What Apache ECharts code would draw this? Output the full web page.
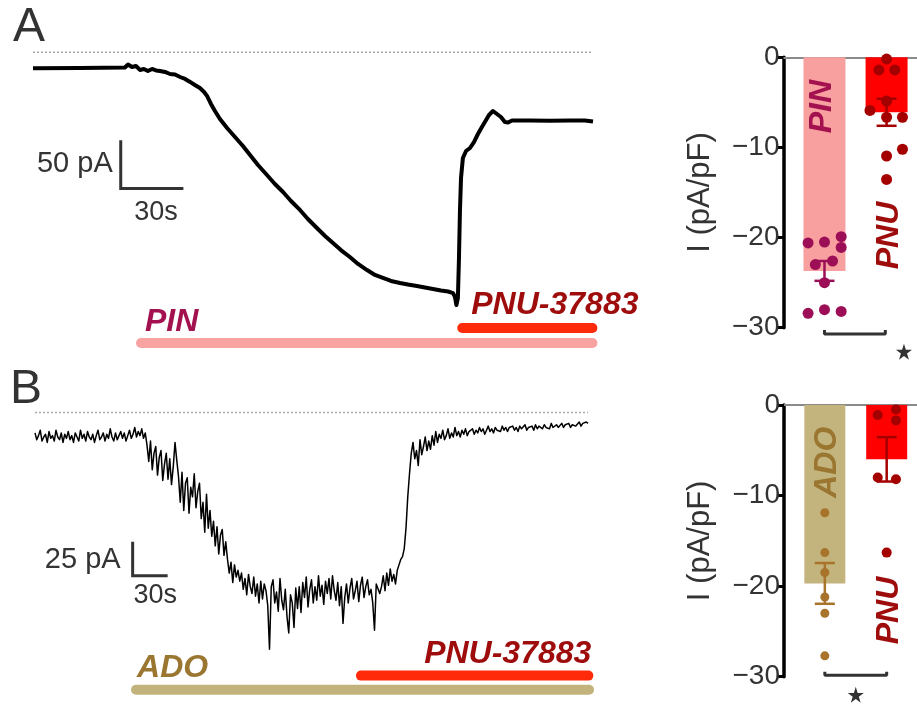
<!DOCTYPE html>
<html>
<head>
<meta charset="utf-8">
<script src="https://cdn.jsdelivr.net/npm/echarts@6/dist/echarts.min.js"></script>
<style>html,body{margin:0;padding:0;background:#fff}#c{width:917px;height:705px}</style>
</head>
<body>
<div id="c"></div>
<script>
// ---------------- DATA ----------------
// Panel A trace: [time (s), current (pA)]
const traceA = [
  [0,-16.6],[22.5,-16.3],[44.0,-15.7],[45.5,-12.6],[47.4,-15.2],[49.3,-14.2],[51.2,-18.3],[53.1,-17.3],
  [55.0,-19.4],[57.0,-17.3],[58.9,-18.8],[60.8,-19.4],[63.2,-20.4],[65.6,-22.5],[68.0,-23.0],[70.4,-25.6],
  [72.8,-27.6],[75.2,-30.7],[77.5,-33.9],[79.9,-37.0],[81.9,-41.1],[83.3,-45.2],[85.2,-53.5],[87.1,-60.8],
  [89.5,-69.1],[92.9,-78.4],[96.7,-87.7],[100.5,-97.0],[103.9,-106.3],[107.7,-116.7],[112.0,-127.0],
  [115.8,-136.3],[119.7,-144.6],[123.5,-153.9],[127.8,-163.2],[131.6,-172.6],[135.9,-181.9],[139.8,-190.2],
  [143.6,-197.4],[147.4,-204.7],[151.7,-211.9],[155.6,-219.1],[159.9,-225.4],[163.7,-230.5],[167.5,-233.6],
  [171.4,-236.7],[175.7,-238.8],[179.5,-240.4],[183.8,-241.9],[187.6,-243.5],[191.5,-245.0],[195.3,-246.6],
  [198.7,-247.6],[201.1,-249.2],[202.0,-253.3],[202.7,-261.6],[203.4,-254.3],[203.9,-215.0],[204.4,-163.2],
  [204.9,-130.1],[205.8,-109.4],[207.3,-102.2],[209.2,-99.1],[211.1,-92.9],[213.0,-84.6],[214.9,-77.3],
  [216.9,-70.1],[218.3,-64.9],[220.2,-60.8],[222.1,-63.9],[224.0,-67.0],[225.9,-72.2],[227.4,-72.7],
  [229.3,-70.6],[237.9,-70.6],[247.5,-70.9],[257.1,-70.6],[264.2,-70.6],[268.1,-71.6]
];
// Panel B trace: current (pA) sampled every traceBStep seconds from t = 0
const traceBStep = 1.5;
const traceBValues = [
  -15,-20,-17,-13,-21,-18,-16,-22,-14,-19,
  -17,-21,-13,-18,-20,-15,-22,-16,-19,-14,
  -20,-17,-22,-15,-18,-21,-13,-19,-16,-21,
  -14,-18,-20,-16,-22,-17,-13,-20,-18,-15,
  -21,-16,-19,-12,-18,-21,-15,-20,-17,-14,
  -19,-15,-21,-17,-13,-19,-16,-11,-18,-14,
  -17,-12,-19,-15,-24,-36,-21,-42,-30,-25,
  -46,-33,-28,-50,-38,-30,-49,-34,-53,-40,
  -22,-35,-47,-66,-44,-72,-52,-48,-74,-55,
  -62,-45,-70,-58,-52,-78,-66,-88,-60,-85,
  -72,-91,-80,-98,-84,-104,-90,-86,-105,-95,
  -108,-118,-110,-125,-112,-121,-116,-124,-118,-130,
  -122,-134,-119,-128,-133,-121,-135,-126,-140,-124,
  -137,-126,-131,-142,-174,-128,-123,-140,-132,-146,
  -122,-138,-145,-130,-150,-162,-134,-140,-158,-129,
  -144,-128,-147,-125,-136,-121,-143,-130,-123,-140,
  -128,-138,-120,-135,-127,-141,-124,-133,-122,-137,
  -120,-131,-138,-125,-142,-128,-155,-136,-126,-140,
  -129,-122,-137,-131,-124,-139,-127,-121,-136,-128,
  -123,-134,-130,-140,-160,-126,-125,-133,-128,-120,
  -131,-118,-127,-115,-124,-119,-126,-116,-112,-108,
  -106,-100,-85,-62,-45,-30,-22,-34,-28,-39,
  -20,-31,-25,-18,-28,-21,-27,-17,-24,-14,
  -22,-16,-19,-13,-20,-17,-12,-19,-15,-18,
  -11,-17,-14,-18,-13,-16,-12,-17,-14,-15,
  -12,-16,-13,-15,-11,-14,-12,-16,-13,-10,
  -14,-12,-15,-11,-13,-12,-14,-10,-13,-11,
  -14,-11,-12,-10,-13,-11,-14,-10,-12,-11,
  -9,-13,-11,-12,-10,-13,-9,-12,-10,-11,
  -12,-9,-11,-10,-12,-8,-11,-10,-9,-11,
  -10,-8,-11,-9,-10,-8,-11,-9,-8,-10,
  -9,-7,-10,-8,-9,-7,-8
];
// Drug application windows [start s, end s]
const pinWindowA = [51.7, 267.8];
const pnuWindowA = [205.5, 267.8];
const adoWindowB = [86.6, 474.9];
const pnuWindowB = [279.4, 474.3];
const baselineEndA = 268;
const baselineEndB = 474;
// Scale bars [pA, s]
const scaleBarA = [50, 30];
const scaleBarB = [25, 30];

// Bar charts (pA/pF)
const groupsA = ['PIN', 'PNU'];
const meansA = [-23.7, -6.1];
const semA = [1.1, 1.5];
const pinCells = [-20.6,-20.5,-19.9,-21.1,-23.0,-22.6,-25.0,-28.4,-28.0,-28.2];
const pinCellsX = [0.736,1.0,1.269,1.269,0.853,1.13,1.0,0.736,1.0,1.269];
const pnuCellsA = [-0.2,-1.4,-1.4,-4.85,-5.9,-6.65,-6.65,-10.95,-10.2,-13.55];
const pnuCellsAX = [2.0,1.877,2.133,2.0,1.733,2.0,2.256,2.0,2.256,2.0];

const groupsB = ['ADO', 'PNU'];
const meansB = [-19.7, -6.0];
const semB = [2.25, 2.45];
const adoCells = [-11.9,-16.3,-18.5,-21.2,-23.0,-27.7];
const adoCellsX = [1.0,1.0,1.0,1.0,1.0,1.0];
const pnuCellsB = [-1.1,-0.5,-1.7,-8.0,-8.2,-16.3];
const pnuCellsBX = [1.855,2.15,2.15,1.855,2.15,2.0];

// ---------------- STYLE / LAYOUT ----------------
const FONT = '"Liberation Sans", Arial, Helvetica, sans-serif';
const TXT = '#333333';
const C = {
  pinBar: '#f8a2a2', pnuBar: '#ff2a0a', adoBar: '#c1b37b',
  pinTxt: '#a3124f', pnuTxt: '#9e0c0c', adoTxt: '#9a7630',
  pinCol: '#f8a0a0', pnuCol: '#ff0000', adoCol: '#c2b47c',
  pinDot: '#9c0e56', pnuDot: '#a50000', adoDot: '#a8732b'
};
// drug bar levels inside trace axes (pA)
const LV = { pinA: -300.9, pnuA: -285.4, adoB: -203.8, pnuB: -193.4 };
// scale bar origins [s, pA]
const SA = [42, -141];
const SB = [83.7, -120];

const STAR = 'path://M50,2 L61.8,38.2 L99.9,38.2 L69.1,60.6 L80.9,96.8 L50,74.4 L19.1,96.8 L30.9,60.6 L0.1,38.2 L38.2,38.2 Z';

const boldIt = {fontSize: 32, fontWeight: 'bold', fontStyle: 'italic', fontFamily: FONT};

function lineSeries(xi, data, style, extra) {
  return Object.assign({
    type: 'line', xAxisIndex: xi, yAxisIndex: xi, data: data, symbol: 'none', showSymbol: false,
    silent: true, clip: false, animation: false, lineStyle: style
  }, extra || {});
}
function labelSeries(xi, items) {
  return {
    type: 'scatter', xAxisIndex: xi, yAxisIndex: xi, symbolSize: 1, silent: true, clip: false, z: 5,
    itemStyle: {color: 'rgba(255,255,255,0)', opacity: 1},
    data: items.map(function (it) {
      return {value: it.value, label: Object.assign({show: true, position: 'inside', formatter: it.text, opacity: 1}, it.style)};
    })
  };
}
function errRender(capHalf, width, color) {
  return function (params, api) {
    const x = api.value(0), m = api.value(1), e = api.value(2);
    const top = api.coord([x, m + e]);
    const bot = api.coord([x, m - e]);
    const st = {stroke: color, lineWidth: width};
    return {type: 'group', children: [
      {type: 'line', shape: {x1: top[0], y1: top[1], x2: bot[0], y2: bot[1]}, style: st},
      {type: 'line', shape: {x1: top[0] - capHalf, y1: top[1], x2: top[0] + capHalf, y2: top[1]}, style: st},
      {type: 'line', shape: {x1: bot[0] - capHalf, y1: bot[1], x2: bot[0] + capHalf, y2: bot[1]}, style: st}
    ]};
  };
}
function errSeries(xi, x, m, e, color) {
  return {type: 'custom', xAxisIndex: xi, yAxisIndex: xi, silent: true, clip: false, z: 4,
    renderItem: errRender(10, 2.5, color), encode: {x: 0, y: 1}, data: [[x, m, e]]};
}
function dots(xi, xs, ys, color, size) {
  return {type: 'scatter', xAxisIndex: xi, yAxisIndex: xi, silent: true, clip: false, z: 3,
    symbolSize: size, itemStyle: {color: color, opacity: 1},
    data: ys.map(function (v, i) { return [xs[i], v]; })};
}
function barYAxis(gi) {
  return {
    gridIndex: gi, type: 'value', min: -30, max: 0, interval: 10,
    axisLine: {show: true, onZero: false, lineStyle: {color: '#000', width: 3.5}},
    axisTick: {show: true, length: 6, lineStyle: {color: '#000', width: 3}},
    axisLabel: {fontSize: 28, color: TXT, margin: 4, fontFamily: FONT,
      formatter: function (v) { return String(v).replace('-', '\u2212'); }},
    splitLine: {show: false},
    name: 'I (pA/pF)', nameLocation: 'middle', nameGap: 68,
    nameTextStyle: {fontSize: 31, color: TXT, fontFamily: FONT}
  };
}
function barXAxis(gi) {
  return {
    gridIndex: gi, type: 'value', min: 0.34, max: 2.49, position: 'top',
    axisLine: {show: true, onZero: false, lineStyle: {color: '#8a8a8a', width: 2}},
    axisTick: {show: false}, axisLabel: {show: false}, splitLine: {show: false}
  };
}
function barLabel(text, color, pos) {
  return Object.assign({show: true, formatter: text, position: pos, rotate: 90,
    align: 'right', verticalAlign: 'middle', color: color}, boldIt);
}
function star(xi, pt) {
  return {type: 'scatter', xAxisIndex: xi, yAxisIndex: xi, symbol: STAR, symbolSize: 16, silent: true, clip: false,
    itemStyle: {color: TXT, opacity: 1}, data: [pt]};
}

const traceB = traceBValues.map(function (v, i) { return [i * traceBStep, v]; });

const option = {
  backgroundColor: '#ffffff',
  animation: false,
  grid: [
    {left: 33, top: 42.6, width: 564, height: 309.2},
    {left: 783.5, top: 57.3, width: 133.5, height: 270.4},
    {left: 35, top: 405.7, width: 560, height: 308},
    {left: 784, top: 405, width: 133, height: 271.7}
  ],
  xAxis: [
    {gridIndex: 0, type: 'value', min: 0, max: 270, show: false},
    barXAxis(1),
    {gridIndex: 2, type: 'value', min: 0, max: 480, show: false},
    barXAxis(3)
  ],
  yAxis: [
    {gridIndex: 0, type: 'value', min: -310, max: 10, show: false},
    barYAxis(1),
    {gridIndex: 2, type: 'value', min: -215, max: 5, show: false},
    barYAxis(3)
  ],
  graphic: [
    {type: 'text', x: 13, y: 27.5, style: {text: 'A', fontSize: 48, fontFamily: FONT, fill: TXT, verticalAlign: 'middle', align: 'left'}},
    {type: 'text', x: 10, y: 389.5, style: {text: 'B', fontSize: 48, fontFamily: FONT, fill: TXT, verticalAlign: 'middle', align: 'left'}}
  ],
  series: [
    // ----- Panel A trace -----
    lineSeries(0, [[0, 0], [baselineEndA, 0]], {color: '#a8a8a8', width: 1.5, type: [2, 2]}),
    lineSeries(0, traceA, {color: '#000', width: 4, join: 'round'}),
    lineSeries(0, [[pinWindowA[0], LV.pinA], [pinWindowA[1], LV.pinA]], {color: C.pinBar, width: 10, cap: 'round'}),
    lineSeries(0, [[pnuWindowA[0], LV.pnuA], [pnuWindowA[1], LV.pnuA]], {color: C.pnuBar, width: 10, cap: 'round'}),
    lineSeries(0, [[SA[0] + scaleBarA[1], SA[1]], SA, [SA[0], SA[1] + scaleBarA[0]]], {color: TXT, width: 3, join: 'miter'}),
    labelSeries(0, [
      {value: [pinWindowA[0], LV.pinA], text: 'PIN', style: Object.assign({align: 'left', offset: [4, -20.5], color: C.pinTxt}, boldIt)},
      {value: [pnuWindowA[0], LV.pnuA], text: 'PNU-37883', style: Object.assign({align: 'left', offset: [9, -23], color: C.pnuTxt}, boldIt)},
      {value: [SA[0], SA[1] + scaleBarA[0] / 2], text: scaleBarA[0] + ' pA', style: {align: 'right', offset: [-8, 0], color: TXT, fontSize: 29, fontFamily: FONT}},
      {value: [SA[0] + scaleBarA[1] / 2, SA[1]], text: scaleBarA[1] + 's', style: {align: 'center', offset: [4, 24], color: TXT, fontSize: 27, fontFamily: FONT}}
    ]),
    // ----- Panel A bars -----
    {type: 'bar', xAxisIndex: 1, yAxisIndex: 1, barWidth: 42, silent: true, z: 2,
      data: [
        {value: [1, meansA[0]], itemStyle: {color: C.pinCol}, label: barLabel(groupsA[0], C.pinTxt, [19, 22.7])},
        {value: [2, meansA[1]], itemStyle: {color: C.pnuCol}, label: barLabel(groupsA[1], C.pnuTxt, [23.4, 144.4])}
      ]},
    dots(1, pinCellsX, pinCells, C.pinDot, 11),
    dots(1, pnuCellsAX, pnuCellsA, C.pnuDot, 11),
    errSeries(1, 1, meansA[0], semA[0], C.pinDot),
    errSeries(1, 2, meansA[1], semA[1], C.pnuDot),
    lineSeries(1, [[1, -30.25], [1, -30.7], [1.98, -30.7], [1.98, -30.25]], {color: TXT, width: 3}),
    star(1, [2.28, -32.66]),

    // ----- Panel B trace -----
    lineSeries(2, [[0, 0], [baselineEndB, 0]], {color: '#a8a8a8', width: 1.5, type: [2, 2]}),
    lineSeries(2, traceB, {color: '#000', width: 1.5, join: 'round'}),
    lineSeries(2, [[adoWindowB[0], LV.adoB], [adoWindowB[1], LV.adoB]], {color: C.adoBar, width: 10, cap: 'round'}),
    lineSeries(2, [[pnuWindowB[0], LV.pnuB], [pnuWindowB[1], LV.pnuB]], {color: C.pnuBar, width: 10, cap: 'round'}),
    lineSeries(2, [[SB[0] + scaleBarB[1], SB[1]], SB, [SB[0], SB[1] + scaleBarB[0]]], {color: TXT, width: 3, join: 'miter'}),
    labelSeries(2, [
      {value: [adoWindowB[0], LV.adoB], text: 'ADO', style: Object.assign({align: 'left', offset: [1, -22], color: C.adoTxt}, boldIt)},
      {value: [pnuWindowB[1], LV.pnuB], text: 'PNU-37883', style: Object.assign({align: 'right', offset: [3, -21.8], color: C.pnuTxt}, boldIt)},
      {value: [SB[0], SB[1] + scaleBarB[0] / 2], text: scaleBarB[0] + ' pA', style: {align: 'right', offset: [-12, 1], color: TXT, fontSize: 29, fontFamily: FONT}},
      {value: [SB[0] + scaleBarB[1] / 2, SB[1]], text: scaleBarB[1] + 's', style: {align: 'center', offset: [5, 20], color: TXT, fontSize: 27, fontFamily: FONT}}
    ]),
    // ----- Panel B bars -----
    {type: 'bar', xAxisIndex: 3, yAxisIndex: 3, barWidth: 41, silent: true, z: 2,
      data: [
        {value: [1, meansB[0]], itemStyle: {color: C.adoCol}, label: barLabel(groupsB[0], C.adoTxt, [23, 21.7])},
        {value: [2, meansB[1]], itemStyle: {color: C.pnuCol}, label: barLabel(groupsB[1], C.pnuTxt, [23, 171.7])}
      ]},
    dots(3, adoCellsX, adoCells, C.adoDot, 9),
    dots(3, pnuCellsBX, pnuCellsB, C.pnuDot, 10),
    errSeries(3, 1, meansB[0], semB[0], C.adoDot),
    errSeries(3, 2, meansB[1], semB[1], C.pnuDot),
    lineSeries(3, [[1, -29.45], [1, -29.85], [2, -29.85], [2, -29.45]], {color: TXT, width: 3}),
    star(3, [1.5, -32.0])
  ]
};

const chart = echarts.init(document.getElementById('c'), null, {renderer: 'canvas'});
chart.setOption(option);
</script>
</body>
</html>
